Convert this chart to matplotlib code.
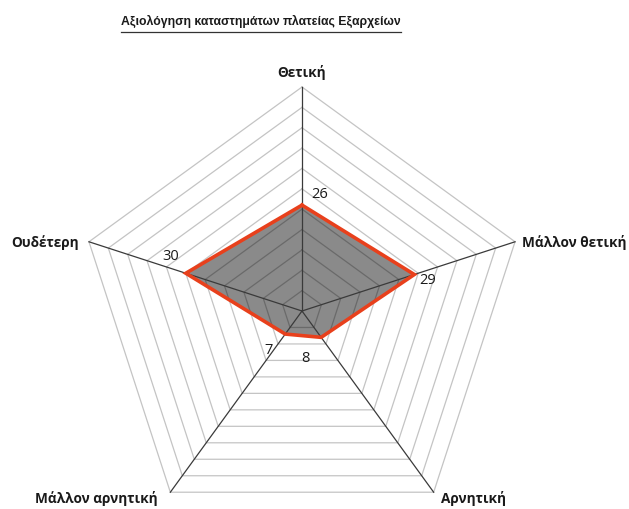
import numpy as np
import matplotlib
matplotlib.use("Agg")
import matplotlib.pyplot as plt
from matplotlib.lines import Line2D

plt.rcParams['font.family'] = ['Open Sans', 'DejaVu Sans']

title = "Αξιολόγηση καταστημάτων πλατείας Εξαρχείων"
categories = ["Θετική", "Μάλλον θετική", "Αρνητική", "Μάλλον αρνητική", "Ουδέτερη"]
values = [26, 29, 8, 7, 30]
r_max = 55
r_step = 5

W, H = 629, 510
fig = plt.figure(figsize=(W / 100, H / 100), dpi=100)
cx, cy, R = 302, 312, 224
ax = fig.add_axes([(cx - R) / W, (H - cy - R) / H, 2 * R / W, 2 * R / H], projection='polar')
ax.set_theta_offset(np.pi / 2)
ax.set_theta_direction(-1)
ax.set_ylim(0, r_max)
ax.grid(False)
ax.set_xticks([])
ax.set_yticks([])
ax.spines['polar'].set_visible(False)
ax.patch.set_visible(False)

n = len(categories)
theta = np.arange(n) * 2 * np.pi / n
theta_c = np.concatenate([theta, theta[:1]])

# rings
for r in np.arange(r_step, r_max + 0.1, r_step):
    ax.plot(theta_c, [r] * (n + 1), color='#c4c4c4', lw=0.9, zorder=1, clip_on=False)
# spokes
for t in theta:
    ax.plot([t, t], [0, r_max], color='#3a3a3a', lw=0.9, zorder=3, clip_on=False)

vals_c = values + values[:1]
ax.fill(theta_c, vals_c, color='#000000', alpha=0.46, zorder=2, lw=0)
ax.plot(theta_c, vals_c, color='#e8401c', lw=2.6, zorder=4, solid_joinstyle='miter')

# category labels
cat_offsets = [(0, 15, 'center'), (7, 0, 'left'), (7, -5, 'left'), (-13, -5, 'right'), (-10, 0, 'right')]
for t, lab, (dx, dy, ha) in zip(theta, categories, cat_offsets):
    ax.annotate(lab, xy=(t, r_max), xytext=(dx, dy), textcoords='offset pixels',
                ha=ha, va='center', fontsize=9.8, fontweight='bold', color='#1a1a1a',
                annotation_clip=False)

# data labels
val_offsets = [(18, 12), (13, -5), (-16, -20), (-17, -15), (-15, 18)]
for t, v, (dx, dy) in zip(theta, values, val_offsets):
    ax.annotate(str(v), xy=(t, v), xytext=(dx, dy), textcoords='offset pixels',
                ha='center', va='center', fontsize=10.5, color='#1a1a1a', zorder=6)

t = fig.text(261 / W, 1 - 21 / H, title, ha='center', va='center', fontsize=8.8,
             fontweight='bold', color='#1a1a1a', family=['Liberation Sans', 'DejaVu Sans'])
fig.canvas.draw()
bb = t.get_window_extent(fig.canvas.get_renderer())
yline = (H - 33) / H
fig.add_artist(Line2D([bb.x0 / W, bb.x1 / W], [yline, yline], color='#333333', lw=0.9,
                      transform=fig.transFigure))

fig.savefig('out.png', dpi=100, facecolor='white')
